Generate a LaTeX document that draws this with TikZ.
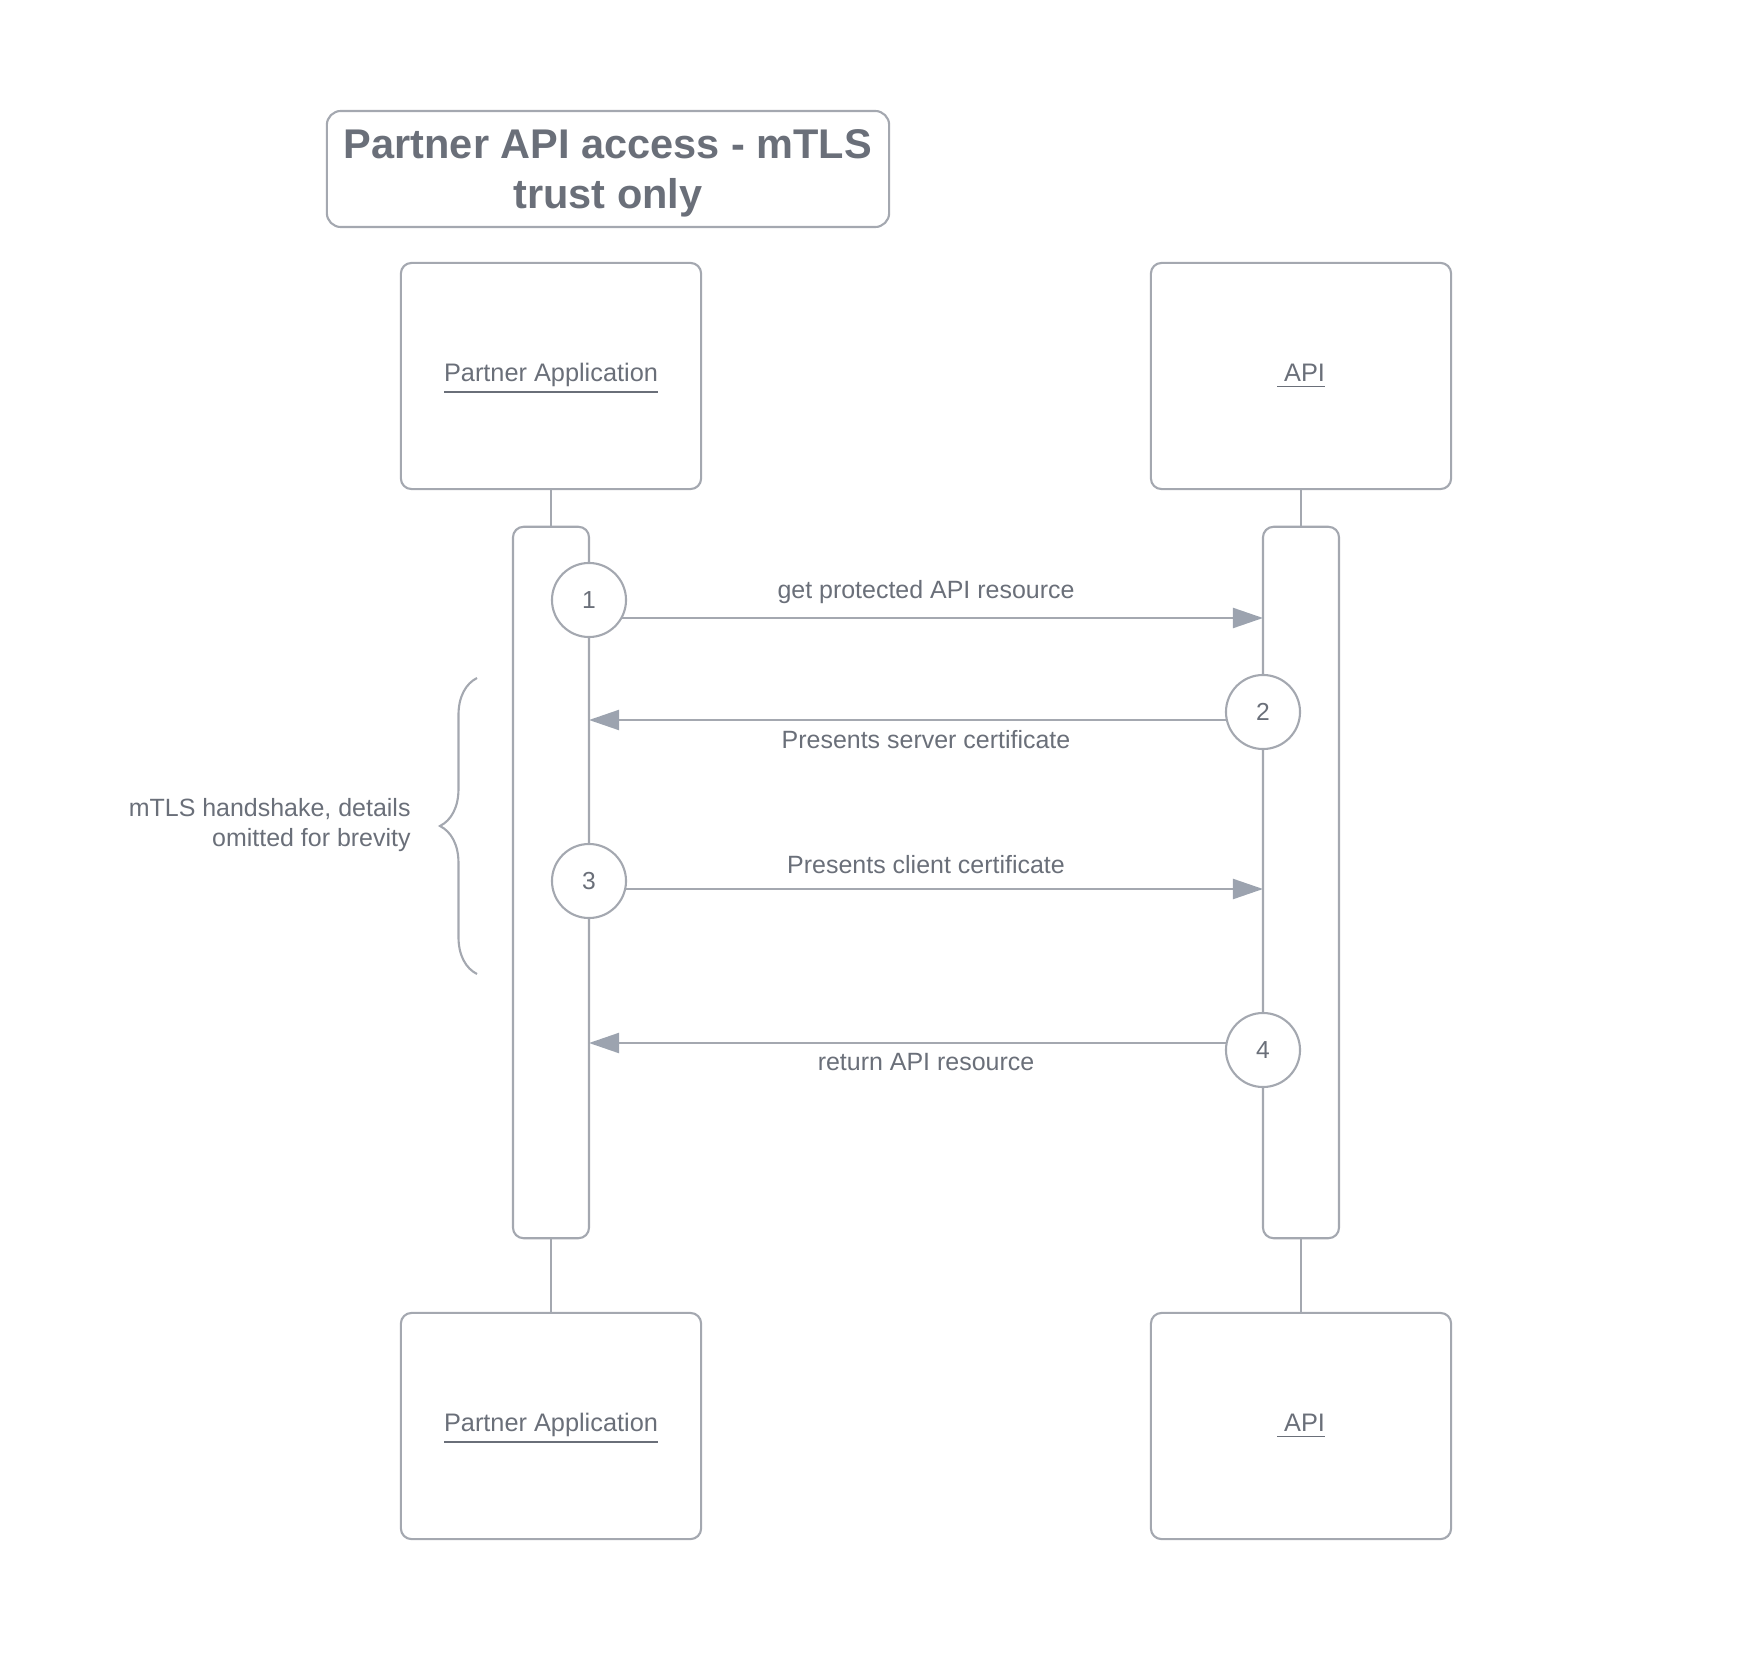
\documentclass[tikz,border=0pt]{standalone}
\usepackage{fontspec}
\setmainfont{Liberation Sans}
\usetikzlibrary{positioning,arrows.meta,decorations.pathreplacing,calc}
\definecolor{linegray}{RGB}{164,168,176}
\definecolor{textgray}{RGB}{106,111,121}
\definecolor{tipgray}{RGB}{156,163,175}
\tikzset{
  actor/.style={draw=linegray, line width=0.6pt, rounded corners=3pt, minimum width=3cm, minimum height=2.26cm, text depth=1.9pt, text=textgray, font=\fontsize{7.2}{8.6}\selectfont},
  bar/.style={draw=linegray, line width=0.6pt, rounded corners=3pt, minimum width=0.76cm, minimum height=7.11cm},
  stepcircle/.style={draw=linegray, fill=white, line width=0.6pt, circle, minimum size=0.74cm, inner sep=0pt, text=textgray, font=\fontsize{7}{8}\selectfont},
  msg/.style={draw=linegray, line width=0.6pt, -{Triangle[length=3mm,width=2mm,fill=tipgray,color=tipgray]}},
  msglabel/.style={text=textgray, font=\fontsize{7.1}{8.5}\selectfont}
}
\begin{document}
\begin{tikzpicture}[x=0.01cm, y=-0.01cm]
    \useasboundingbox (0,0) rectangle (1742,1667);
    % title
    \node[draw=linegray, line width=0.6pt, rounded corners=4pt, minimum width=5.62cm, minimum height=1.16cm, align=center, text depth=0pt, text=textgray, font=\fontsize{11.8}{14.2}\selectfont\bfseries] (title) at (608,169) {Partner API access - mTLS\\trust only};
    % actors
    \node[actor] (pa) at (551,376) {\underline{Partner Application}};
    \node[actor] (api) at (1301,376) {\underline{\ API}};
    \node[actor] (pab) at (551,1426) {\underline{Partner Application}};
    \node[actor] (apib) at (1301,1426) {\underline{\ API}};
    % activation bars
    \node[bar] (pabar) at (551,882.5) {};
    \node[bar] (apibar) at (1301,882.5) {};
    \draw[linegray, line width=0.6pt] (pa.south) -- (pabar.north);
    \draw[linegray, line width=0.6pt] (api.south) -- (apibar.north);
    \draw[linegray, line width=0.6pt] (pabar.south) -- (pab.north);
    \draw[linegray, line width=0.6pt] (apibar.south) -- (apib.north);
    % messages
    \coordinate (m1s) at (589,618);  \coordinate (m1e) at (1263,618);
    \coordinate (m2s) at (1263,720); \coordinate (m2e) at (589,720);
    \coordinate (m3s) at (589,889);  \coordinate (m3e) at (1263,889);
    \coordinate (m4s) at (1263,1043); \coordinate (m4e) at (589,1043);
    \draw[msg] (m1s) -- (m1e) node[midway, above=0.02cm, msglabel] (l1) {get protected API resource};
    \draw[msg] (m2s) -- (m2e) node[midway, below=-0.02cm, msglabel] (l2) {Presents server certificate};
    \draw[msg] (m3s) -- (m3e) node[midway, above=0.02cm, msglabel] (l3) {Presents client certificate};
    \draw[msg] (m4s) -- (m4e) node[midway, below=-0.02cm, msglabel] (l4) {return API resource};
    % step numbers
    \node[stepcircle] (c1) at (589,600) {1};
    \node[stepcircle] (c2) at (1263,712) {2};
    \node[stepcircle] (c3) at (589,881) {3};
    \node[stepcircle] (c4) at (1263,1050) {4};
    % handshake brace
    \draw[linegray, line width=0.6pt, decorate, decoration={brace, amplitude=0.37cm}] (477,974) -- (477,678);
    \node[msglabel, anchor=east, align=right, font=\fontsize{7.1}{8.5}\selectfont] (hs) at (423,825) {mTLS handshake, details\\omitted for brevity};
\end{tikzpicture}
\end{document}
